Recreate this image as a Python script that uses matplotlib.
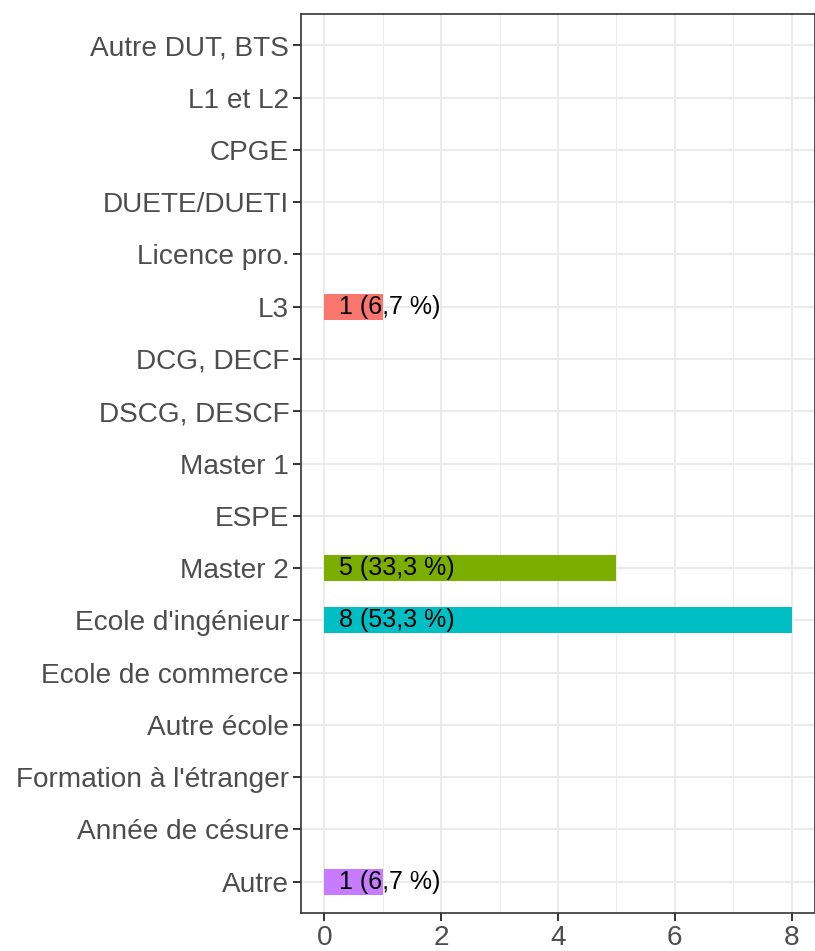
import matplotlib
matplotlib.use("Agg")
import matplotlib.pyplot as plt
from matplotlib.ticker import MultipleLocator

# categories listed top to bottom
categories = [
    "Autre DUT, BTS", "L1 et L2", "CPGE", "DUETE/DUETI", "Licence pro.", "L3",
    "DCG, DECF", "DSCG, DESCF", "Master 1", "ESPE", "Master 2",
    "Ecole d'ingénieur", "Ecole de commerce", "Autre école",
    "Formation à l'étranger", "Année de césure", "Autre",
]
counts = [0, 0, 0, 0, 0, 1, 0, 0, 0, 0, 5, 8, 0, 0, 0, 0, 1]
labels = {"L3": "1 (6,7 %)", "Master 2": "5 (33,3 %)",
          "Ecole d'ingénieur": "8 (53,3 %)", "Autre": "1 (6,7 %)"}
bar_colors = {"L3": "#F8766D", "Master 2": "#7CAE00",
              "Ecole d'ingénieur": "#00BFC4", "Autre": "#C77CFF"}

plt.rcParams["font.family"] = ["Liberation Sans", "DejaVu Sans"]

fig = plt.figure(figsize=(8.15, 9.51), dpi=100)
ax = fig.add_axes([301 / 815, 1 - 913 / 951, 514 / 815, 899 / 951])

n = len(categories)
ypos = [n - i for i in range(n)]

for cat, y, c in zip(categories, ypos, counts):
    if c > 0:
        ax.barh(y, c, height=0.5, color=bar_colors[cat], zorder=2)
        ax.text(0.25, y, labels[cat], ha="left", va="center",
                fontsize=18, color="black", zorder=3)

ax.set_xlim(-0.4, 8.4)
ax.set_ylim(0.4, n + 0.6)
ax.set_yticks(ypos)
ax.set_yticklabels(categories)
ax.xaxis.set_major_locator(MultipleLocator(2))
ax.xaxis.set_minor_locator(MultipleLocator(1))

ax.grid(which="major", color="#EBEBEB", linewidth=1.4, zorder=0)
ax.grid(which="minor", axis="x", color="#EBEBEB", linewidth=0.7, zorder=0)
ax.set_axisbelow(True)
ax.tick_params(which="major", length=5.5, width=1.4, color="#333333",
               labelcolor="#4D4D4D", labelsize=20.2, pad=3)
ax.tick_params(which="minor", length=0)
for s in ax.spines.values():
    s.set_color("#333333")
    s.set_linewidth(1.2)

fig.savefig("out.png", dpi=100)
